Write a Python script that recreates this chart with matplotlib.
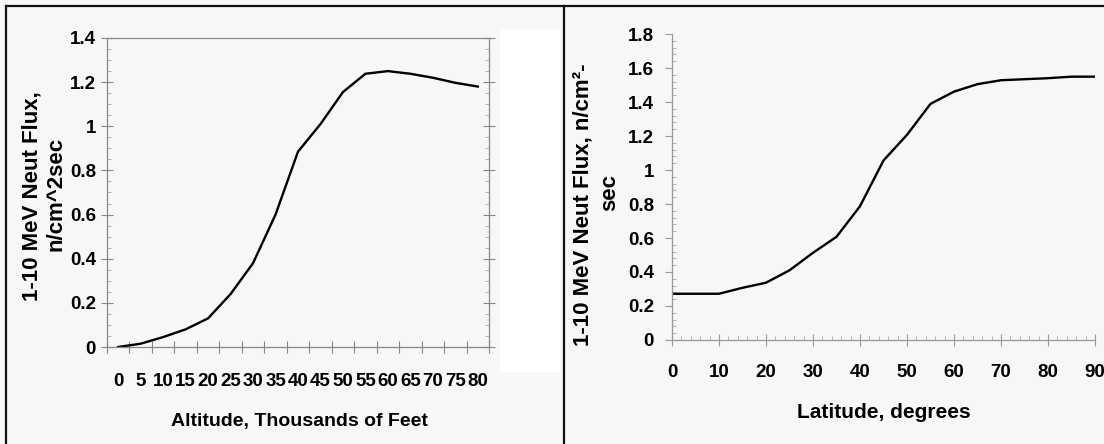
import matplotlib
matplotlib.use('Agg')
import matplotlib.pyplot as plt
from matplotlib import font_manager
from matplotlib.lines import Line2D
from matplotlib.patches import Rectangle
from matplotlib.ticker import MultipleLocator, FixedLocator

# altitude panel
altitude = [0, 5, 10, 15, 20, 25, 30, 35, 40, 45, 50, 55, 60, 65, 70, 75, 80]
flux_alt = [0.0, 0.015, 0.045, 0.08, 0.13, 0.24, 0.38, 0.60, 0.885, 1.01,
            1.155, 1.238, 1.25, 1.238, 1.22, 1.197, 1.18]

# latitude panel
latitude = [0, 5, 10, 15, 20, 25, 30, 35, 40, 45, 50, 55, 60, 65, 70, 75, 80, 85, 90]
flux_lat = [0.272, 0.272, 0.272, 0.307, 0.337, 0.41, 0.513, 0.607, 0.787, 1.056,
            1.207, 1.389, 1.461, 1.505, 1.528, 1.534, 1.54, 1.549, 1.549]

names = {f.name for f in font_manager.fontManager.ttflist}
fam = 'Liberation Sans Narrow' if 'Liberation Sans Narrow' in names else 'Liberation Sans'
plt.rcParams['font.family'] = [fam, 'DejaVu Sans']
plt.rcParams['font.weight'] = 'bold'

W, H = 1104, 444
bg = '#f7f7f7'
fig = plt.figure(figsize=(W / 100, H / 100), dpi=100, facecolor=bg)


def fx(px):
    return px / W


def fy(py):
    return 1 - py / H


# white patch between the panels
fig.add_artist(Rectangle((fx(500), fy(372)), fx(560) - fx(500), fy(29) - fy(372),
                         transform=fig.transFigure, facecolor='white', edgecolor='none'))

# frame lines
for xs, ys in [((6, 6), (6, 444)), ((6, 1104), (6, 6)), ((564, 564), (6, 444))]:
    fig.add_artist(Line2D([fx(x) for x in xs], [fy(y) for y in ys], color='#111111',
                          lw=1.6, transform=fig.transFigure))

# ---------- left: altitude ----------
ax1 = fig.add_axes([fx(107), fy(347), fx(489) - fx(107), fy(38) - fy(347)])
ax1.set_facecolor(bg)
ax1.plot(altitude, flux_alt, color='black', lw=1.7)
ax1.set_xlim(-2.5, 82.5)
ax1.set_ylim(0, 1.4)
ax1.set_xticks(altitude)
ax1.set_xticklabels([str(a) for a in altitude])
ax1.xaxis.set_minor_locator(FixedLocator([a - 2.5 for a in altitude] + [82.5]))
ax1.tick_params(axis='x', which='major', length=0, pad=19, labelsize=13.5)
ax1.tick_params(axis='x', which='minor', direction='inout', length=8, width=0.8, color='#888888')
ax1.set_yticks([0, 0.2, 0.4, 0.6, 0.8, 1.0, 1.2, 1.4])
ax1.set_yticklabels(['0', '0.2', '0.4', '0.6', '0.8', '1', '1.2', '1.4'])
ax1.yaxis.set_minor_locator(MultipleLocator(0.05))
ax1.tick_params(axis='y', which='major', direction='inout', length=8, width=0.8,
                color='#888888', labelsize=13.5, pad=4, right=True)
ax1.tick_params(axis='y', which='minor', direction='in', length=3, width=0.6,
                color='#aaaaaa', right=True)
for s in ax1.spines.values():
    s.set_color('#888888')
    s.set_linewidth(0.9)

fig.text(fx(299), fy(421), 'Altitude, Thousands of Feet', ha='center', va='center',
         fontsize=14, fontweight='bold')
fig.text(fx(32), fy(196), '1-10 MeV Neut Flux,', rotation=90, ha='center', va='center',
         fontsize=16, fontweight='bold')
fig.text(fx(56), fy(194), 'n/cm^2sec', rotation=90, ha='center', va='center',
         fontsize=16, fontweight='bold')

# ---------- right: latitude ----------
ax2 = fig.add_axes([fx(672), fy(340), fx(1095) - fx(672), fy(34) - fy(340)])
ax2.set_facecolor(bg)
ax2.plot(latitude, flux_lat, color='black', lw=1.7)
ax2.set_xlim(0, 90)
ax2.set_ylim(0, 1.8)
ax2.set_xticks(range(0, 91, 10))
ax2.xaxis.set_minor_locator(MultipleLocator(2))
ax2.tick_params(axis='x', which='major', direction='inout', length=9, width=0.8,
                color='#999999', labelsize=13.5, pad=13)
ax2.tick_params(axis='x', which='minor', direction='in', length=3, width=0.6, color='#aaaaaa')
ax2.set_yticks([0, 0.2, 0.4, 0.6, 0.8, 1.0, 1.2, 1.4, 1.6, 1.8])
ax2.set_yticklabels(['0', '0.2', '0.4', '0.6', '0.8', '1', '1.2', '1.4', '1.6', '1.8'])
ax2.yaxis.set_minor_locator(MultipleLocator(0.04))
ax2.tick_params(axis='y', which='major', direction='out', length=5, width=0.8,
                color='#999999', labelsize=13.5, pad=8)
ax2.tick_params(axis='y', which='minor', direction='in', length=3, width=0.6, color='#aaaaaa')
ax2.spines['top'].set_visible(False)
ax2.spines['right'].set_visible(False)
for side in ['left', 'bottom']:
    ax2.spines[side].set_color('#999999')
    ax2.spines[side].set_linewidth(0.9)

fig.text(fx(884), fy(412), 'Latitude, degrees', ha='center', va='center',
         fontsize=15, fontweight='bold')
fig.text(fx(583), fy(205), '1-10 MeV Neut Flux, n/cm\u00b2-', rotation=90, ha='center',
         va='center', fontsize=16, fontweight='bold')
fig.text(fx(610), fy(192), 'sec', rotation=90, ha='center', va='center',
         fontsize=16, fontweight='bold')

fig.savefig('out.png', dpi=100, facecolor=bg)
